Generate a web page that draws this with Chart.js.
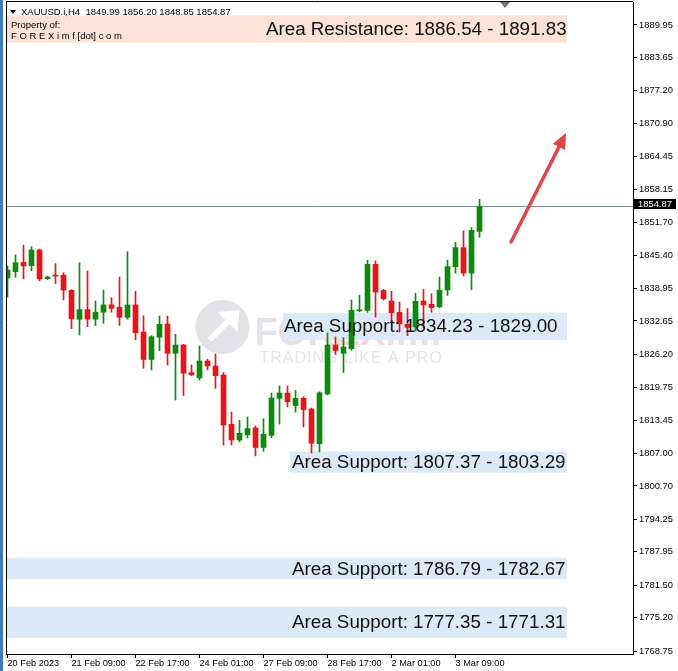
<!DOCTYPE html>
<html>
<head>
<meta charset="utf-8">
<script src="https://cdn.jsdelivr.net/npm/chart.js@4.4.0/dist/chart.umd.min.js"></script>
<style>
  html, body { margin: 0; padding: 0; background: #fff; }
  #wrap { width: 678px; height: 671px; }
</style>
</head>
<body>
<div id="wrap"><canvas id="chart" width="678" height="671"></canvas></div>
<script>
// XAUUSD H4, 20 Feb - 3 Mar 2023
const symbol = "XAUUSD.i,H4";

const opens = [
  1840.97, 1842.19, 1843.97, 1843.36, 1846.39, 1840.83, 1841.53, 1841.53, 1838.56, 1832.97,
  1834.85, 1833.00, 1834.33, 1835.76, 1835.30, 1833.36, 1835.76, 1830.51, 1825.19, 1829.49,
  1832.06, 1826.39, 1828.00, 1822.64, 1821.61, 1824.90, 1823.93, 1822.19, 1812.64, 1809.60,
  1810.60, 1811.94, 1808.15, 1810.50, 1817.68, 1818.70, 1816.28, 1817.68, 1815.60, 1808.90,
  1818.51, 1828.00, 1826.39, 1827.28, 1834.60, 1834.70, 1843.61, 1838.56, 1836.52, 1834.30,
  1832.00, 1831.50, 1836.52, 1835.87, 1835.40, 1838.63, 1843.16, 1846.84, 1841.90, 1849.99
];
const highs = [
  1843.30, 1845.42, 1847.36, 1847.03, 1846.58, 1841.35, 1843.75, 1842.00, 1838.69, 1843.93,
  1842.32, 1836.52, 1838.63, 1837.16, 1841.16, 1846.06, 1838.37, 1833.65, 1829.80, 1833.60,
  1833.60, 1830.07, 1828.13, 1824.13, 1827.80, 1825.26, 1826.26, 1822.67, 1815.00, 1813.40,
  1814.04, 1812.33, 1813.70, 1818.70, 1820.06, 1820.06, 1819.20, 1818.00, 1815.80, 1818.94,
  1830.33, 1829.55, 1829.45, 1836.71, 1837.60, 1844.39, 1844.30, 1838.76, 1838.40, 1836.30,
  1835.06, 1838.00, 1838.76, 1837.90, 1841.16, 1844.43, 1847.84, 1850.10, 1850.72, 1856.20
];
const lows = [
  1837.29, 1841.10, 1840.80, 1842.38, 1840.40, 1840.67, 1839.90, 1836.71, 1831.16, 1829.94,
  1831.54, 1831.77, 1832.20, 1834.33, 1831.81, 1832.97, 1829.00, 1823.49, 1823.16, 1826.90,
  1824.13, 1817.35, 1818.22, 1822.07, 1821.22, 1823.20, 1819.62, 1808.64, 1808.64, 1809.28,
  1809.99, 1806.52, 1807.42, 1810.05, 1812.70, 1816.00, 1815.00, 1812.14, 1807.10, 1807.30,
  1818.32, 1826.16, 1822.67, 1827.00, 1834.40, 1834.30, 1833.40, 1836.71, 1832.38, 1830.50,
  1829.80, 1830.70, 1831.30, 1834.33, 1835.20, 1837.60, 1841.90, 1841.36, 1838.69, 1848.85
];
const closes = [
  1842.52, 1843.93, 1843.30, 1846.39, 1840.78, 1841.16, 1841.34, 1838.63, 1833.04, 1834.85,
  1833.00, 1834.33, 1835.76, 1835.10, 1833.36, 1835.74, 1830.35, 1825.19, 1829.60, 1832.00,
  1826.39, 1828.00, 1822.52, 1822.20, 1824.90, 1823.93, 1822.07, 1812.51, 1809.60, 1810.90,
  1811.81, 1808.15, 1810.73, 1817.74, 1818.70, 1817.03, 1817.68, 1815.51, 1808.97, 1818.74,
  1828.00, 1826.94, 1827.61, 1834.70, 1834.80, 1843.61, 1838.24, 1836.95, 1834.26, 1832.10,
  1831.40, 1836.45, 1835.74, 1835.23, 1838.60, 1843.16, 1846.84, 1841.90, 1850.20, 1854.87
];

const xTickBars = [0, 8, 16, 24, 32, 40, 48, 56];
const xTickLabels = ["20 Feb 2023", "21 Feb 09:00", "22 Feb 17:00", "24 Feb 01:00",
                     "27 Feb 09:00", "28 Feb 17:00", "2 Mar 01:00", "3 Mar 09:00"];
const yTicks = [1889.95, 1883.65, 1877.20, 1870.90, 1864.45, 1858.15, 1851.70, 1845.40,
                1838.95, 1832.65, 1826.20, 1819.75, 1813.45, 1807.00, 1800.70, 1794.25,
                1787.95, 1781.50, 1775.20, 1768.75];

// zones
const zoneNames = ["Area Resistance", "Area Support", "Area Support", "Area Support", "Area Support"];
const zoneFirst = [1886.54, 1834.23, 1807.37, 1786.79, 1777.35];
const zoneSecond = [1891.83, 1829.00, 1803.29, 1782.67, 1771.31];
const zoneFromBar = [-0.2, 34.45, 35.3, -0.2, -0.2];
const zoneToBar = [69.94, 69.94, 69.94, 69.94, 69.94];
const zoneTextBar = [32.3, 34.56, 35.56, 35.56, 35.56];

// projected move arrow (bar index, price)
const arrowFrom = [62.94, 1847.93];
const arrowTo = [69.81, 1869.04];

const UP = "#0b8a0b", DOWN = "#ea1416";
const FONT = "'Liberation Sans', Arial, sans-serif";

const candleColors = opens.map((o, i) => closes[i] >= o ? UP : DOWN);
const bodyData = opens.map((o, i) => ({ x: i, y: [o, closes[i]] }));
const wickData = opens.map((o, i) => ({ x: i, y: [lows[i], highs[i]] }));
const last = opens.length - 1;

const deco = {
  id: "deco",
  beforeDraw(chart) {
    const ctx = chart.ctx;
    ctx.save();
    ctx.fillStyle = "#fff";
    ctx.fillRect(0, 0, chart.width, chart.height);
    ctx.fillStyle = "#3f7cb8";
    ctx.fillRect(0, 0, 3, chart.height);
    ctx.restore();
  },
  beforeDatasetsDraw(chart) {
    const ctx = chart.ctx, a = chart.chartArea;
    const xs = chart.scales.x, ys = chart.scales.y;
    ctx.save();
    ctx.beginPath();
    ctx.rect(a.left, a.top, a.right - a.left, a.bottom - a.top);
    ctx.clip();

    // watermark
    const cx = (a.left + a.right) / 2, cy = (a.top + a.bottom) / 2;
    ctx.fillStyle = "#e2e2e8";
    ctx.beginPath();
    ctx.arc(cx - 97, cy - 1, 27, 0, Math.PI * 2);
    ctx.fill();
    ctx.strokeStyle = "#fff";
    ctx.lineWidth = 6;
    ctx.beginPath();
    ctx.moveTo(cx - 110, cy + 12);
    ctx.lineTo(cx - 88, cy - 10);
    ctx.stroke();
    ctx.fillStyle = "#fff";
    ctx.beginPath();
    ctx.moveTo(cx - 80, cy - 18);
    ctx.lineTo(cx - 102, cy - 16);
    ctx.lineTo(cx - 82, cy + 4);
    ctx.closePath();
    ctx.fill();
    ctx.font = "bold 38px " + FONT;
    ctx.textBaseline = "alphabetic";
    ctx.textAlign = "left";
    let tx = cx - 65;
    [["FOR", "#e2e2e8"], ["EX", "#f4d6df"], ["imf", "#e2e2e8"]].forEach(([t, c]) => {
      ctx.fillStyle = c;
      ctx.fillText(t, tx, cy + 17);
      tx += ctx.measureText(t).width;
    });
    ctx.font = "16px " + FONT;
    ctx.fillStyle = "#e6e6e6";
    ctx.letterSpacing = "1px";
    ctx.fillText("TRADING LIKE A PRO", cx - 60, cy + 35);
    ctx.letterSpacing = "0px";

    // zones
    zoneFirst.forEach((v, i) => {
      const hi = Math.max(v, zoneSecond[i]), lo = Math.min(v, zoneSecond[i]);
      const t = ys.getPixelForValue(hi), b = ys.getPixelForValue(lo);
      const l = xs.getPixelForValue(zoneFromBar[i]), r = xs.getPixelForValue(zoneToBar[i]);
      ctx.fillStyle = i === 0 ? "#fce3d5" : "#dce9f8";
      ctx.fillRect(l, t, r - l, b - t);
    });

    // last price line
    const py = Math.round(ys.getPixelForValue(closes[last])) + 0.5;
    ctx.strokeStyle = "#7d8b9c";
    ctx.lineWidth = 1;
    ctx.beginPath();
    ctx.moveTo(a.left, py);
    ctx.lineTo(a.right, py);
    ctx.stroke();
    ctx.restore();
  },
  afterDatasetsDraw(chart) {
    const ctx = chart.ctx;
    const xs = chart.scales.x, ys = chart.scales.y;
    ctx.save();

    // zone labels
    ctx.font = "18.8px " + FONT;
    ctx.fillStyle = "#111";
    ctx.textBaseline = "middle";
    ctx.textAlign = "left";
    zoneFirst.forEach((v, i) => {
      const mid = (ys.getPixelForValue(v) + ys.getPixelForValue(zoneSecond[i])) / 2;
      const txt = zoneNames[i] + ": " + v.toFixed(2) + " - " + zoneSecond[i].toFixed(2);
      ctx.fillText(txt, xs.getPixelForValue(zoneTextBar[i]), mid + 1);
    });

    // arrow
    const x1 = xs.getPixelForValue(arrowFrom[0]), y1 = ys.getPixelForValue(arrowFrom[1]);
    const x2 = xs.getPixelForValue(arrowTo[0]), y2 = ys.getPixelForValue(arrowTo[1]);
    const ang = Math.atan2(y2 - y1, x2 - x1);
    ctx.strokeStyle = "#e0474a";
    ctx.fillStyle = "#e0474a";
    ctx.lineWidth = 3.5;
    ctx.lineCap = "round";
    ctx.beginPath();
    ctx.moveTo(x1, y1);
    ctx.lineTo(x2 - 8 * Math.cos(ang), y2 - 8 * Math.sin(ang));
    ctx.stroke();
    ctx.beginPath();
    ctx.moveTo(x2, y2);
    ctx.lineTo(x2 - 17 * Math.cos(ang - 0.42), y2 - 17 * Math.sin(ang - 0.42));
    ctx.lineTo(x2 - 17 * Math.cos(ang + 0.42), y2 - 17 * Math.sin(ang + 0.42));
    ctx.closePath();
    ctx.fill();

    // header
    ctx.font = "9.5px " + FONT;
    ctx.fillStyle = "#000";
    ctx.textBaseline = "middle";
    ctx.beginPath();
    ctx.moveTo(10, 10); ctx.lineTo(16, 10); ctx.lineTo(13, 14); ctx.closePath();
    ctx.fill();
    const hdr = symbol + "  " + [opens[last], highs[last], lows[last], closes[last]].map(v => v.toFixed(2)).join(" ");
    ctx.fillText(hdr, 21, 12.5);
    ctx.fillText("Property of:", 11, 25.5);
    ctx.fillText("F O R E X i m f [dot] c o m", 11, 36);
    ctx.restore();
  },
  afterDraw(chart) {
    const ctx = chart.ctx, a = chart.chartArea, ys = chart.scales.y;
    ctx.save();
    // frame
    ctx.strokeStyle = "#000";
    ctx.lineWidth = 1;
    ctx.beginPath();
    ctx.moveTo(a.left + 0.5, a.bottom);
    ctx.lineTo(a.left + 0.5, 1.5);
    ctx.lineTo(a.right, 1.5);
    ctx.stroke();
    // shift marker
    ctx.fillStyle = "#6b7480";
    ctx.beginPath();
    ctx.moveTo(500, 2); ctx.lineTo(510, 2); ctx.lineTo(505, 8); ctx.closePath();
    ctx.fill();
    // last price tag
    const py = Math.round(ys.getPixelForValue(closes[last]));
    ctx.fillStyle = "#000";
    ctx.fillRect(a.right, py - 7, 43, 10);
    ctx.fillStyle = "#fff";
    ctx.font = "9.4px " + FONT;
    ctx.textBaseline = "middle";
    ctx.fillText(closes[last].toFixed(2), a.right + 5, py - 2);
    ctx.restore();
  }
};

new Chart(document.getElementById("chart"), {
  type: "bar",
  data: {
    datasets: [
      { data: bodyData, backgroundColor: candleColors, barThickness: 5, grouped: false, minBarLength: 1, borderWidth: 0 },
      { data: wickData, backgroundColor: candleColors, barThickness: 1, grouped: false, borderWidth: 0 }
    ]
  },
  options: {
    responsive: false,
    animation: false,
    events: [],
    layout: { padding: { left: 6, top: 2, right: 0, bottom: 0 } },
    plugins: { legend: { display: false }, tooltip: { enabled: false } },
    scales: {
      x: {
        type: "linear",
        min: -0.1875,
        max: 78.1875,
        offset: false,
        grid: { display: true, offset: false, drawOnChartArea: false, drawTicks: true, tickLength: 4, color: "#000" },
        border: { display: true, color: "#000" },
        afterBuildTicks: s => { s.ticks = xTickBars.map(v => ({ value: v })); },
        afterFit: s => { s.height = 17; s.paddingLeft = 0; s.paddingRight = 0; },
        ticks: {
          autoSkip: false, maxRotation: 0, minRotation: 0, align: "start", padding: 0,
          color: "#000", font: { family: FONT, size: 9.2 },
          callback: (v, i) => xTickLabels[i]
        }
      },
      y: {
        position: "right",
        min: 1768.17,
        max: 1894.40,
        grid: { display: true, drawOnChartArea: false, drawTicks: true, tickLength: 4, color: "#000" },
        border: { display: true, color: "#000" },
        afterBuildTicks: s => { s.ticks = yTicks.map(v => ({ value: v })); },
        afterFit: s => { s.width = 45; s.paddingTop = 0; s.paddingBottom = 0; },
        ticks: {
          autoSkip: false, padding: 2, color: "#000", font: { family: FONT, size: 9.4 },
          callback: v => v.toFixed(2)
        }
      }
    }
  },
  plugins: [deco]
});
</script>
</body>
</html>
